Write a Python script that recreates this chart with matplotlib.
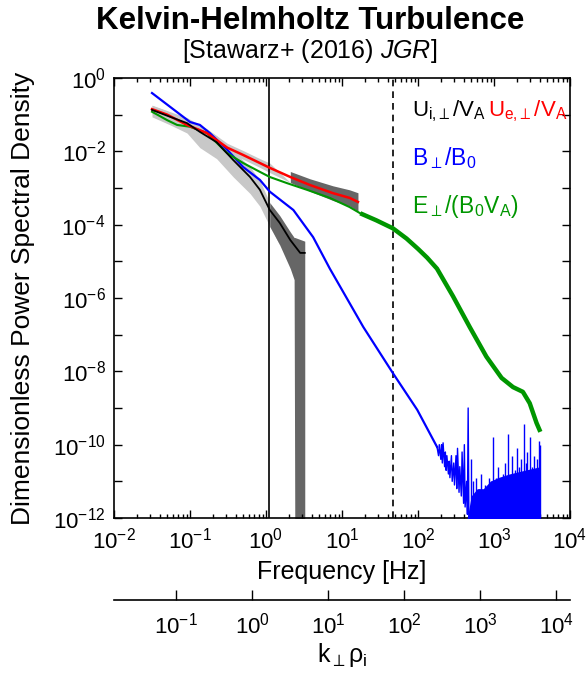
import numpy as np
import matplotlib
matplotlib.use("Agg")
import matplotlib.pyplot as plt
from matplotlib.ticker import FixedLocator, FuncFormatter, LogLocator, NullLocator

plt.rcParams['font.family'] = ['Liberation Sans', 'DejaVu Sans']
plt.rcParams['mathtext.fontset'] = 'custom'
plt.rcParams['mathtext.rm'] = 'Liberation Sans'
plt.rcParams['mathtext.it'] = 'Liberation Sans:italic'
plt.rcParams['mathtext.bf'] = 'Liberation Sans:bold'
plt.rcParams['mathtext.fallback'] = 'stixsans'

# values, log10(frequency [Hz]) and log10(PSD)
black_logf = [-1.5, -1.26, -1.04, -0.87, -0.65, -0.43, -0.21, -0.08, 0.05, 0.18, 0.32, 0.45, 0.51]
black_logp = [-0.87, -1.06, -1.23, -1.47, -1.75, -2.24, -2.7, -3.05, -3.6, -3.95, -4.42, -4.77, -4.77]
black_band_logf = [-1.5, -1.26, -1.04, -0.87, -0.65, -0.43, -0.21, -0.08, 0.05, 0.18, 0.32, 0.37, 0.38, 0.51]
black_band_hi = [-0.74, -0.92, -1.08, -1.28, -1.58, -2.0, -2.42, -2.8, -3.4, -3.75, -4.2, -4.35, -4.35, -4.45]
black_band_lo = [-1.06, -1.28, -1.5, -1.9, -2.2, -2.7, -3.15, -3.5, -4.05, -4.55, -5.2, -5.5, -13, -13]

red_logf = [-1.5, -1.3, -1.04, -0.78, -0.51, -0.30, -0.08, 0.05, 0.32, 0.58, 0.88, 1.1, 1.21]
red_logp = [-0.85, -1.0, -1.28, -1.5, -1.9, -2.1, -2.32, -2.45, -2.7, -2.92, -3.14, -3.27, -3.38]
red_err = [0.1, 0.1, 0.1, 0.12, 0.12, 0.12, 0.12, 0.13, 0.15, 0.17, 0.2, 0.22, 0.25]

green_logf = [-1.5, -1.3, -1.17, -1.0, -0.78, -0.51, -0.30, -0.08, 0.05, 0.28, 0.54, 0.84, 1.1,
              1.24, 1.45, 1.67, 1.85, 2.0, 2.12, 2.25, 2.46, 2.68, 2.9, 3.1, 3.25, 3.38, 3.47, 3.56, 3.61]
green_logp = [-0.92, -1.15, -1.28, -1.33, -1.5, -2.05, -2.32, -2.56, -2.7, -2.87, -3.05, -3.27, -3.52,
              -3.69, -3.88, -4.1, -4.38, -4.66, -4.9, -5.2, -5.95, -6.79, -7.6, -8.18, -8.43, -8.56, -8.87, -9.41, -9.65]

blue_logf = [-1.5, -1.0, -0.87, -0.74, -0.51, -0.30, -0.08, 0.05, 0.36, 0.62, 0.84, 1.28, 1.67, 1.99, 2.25]
blue_logp = [-0.41, -1.2, -1.28, -1.5, -1.96, -2.43, -2.78, -3.1, -3.6, -4.34, -5.2, -6.79, -8.05, -9.05, -10.06]
# jagged stretch where the spectrum reaches the noise floor
blue_zig_logf = [2.25, 2.27, 2.28, 2.30, 2.31, 2.32, 2.33, 2.35, 2.36, 2.37, 2.38, 2.40, 2.41, 2.42, 2.44,
                 2.45, 2.47, 2.48, 2.50, 2.51, 2.52, 2.54, 2.55, 2.57, 2.58, 2.60, 2.61, 2.62, 2.64, 2.65,
                 2.66, 2.67, 2.68]
blue_zig_logp = [-10.06, -10.3, -10.0, -10.4, -10.0, -10.5, -9.95, -10.6, -10.2, -10.7, -10.3, -10.8, -10.45,
                 -10.9, -10.3, -11.0, -10.5, -11.1, -10.3, -11.2, -10.1, -11.3, -10.6, -11.4, -10.2, -11.6,
                 -10.0, -11.7, -11.0, -11.9, -9.0, -12.1, -12.5]
blue_env_logf = [2.64, 2.70, 2.78, 2.86, 2.95, 3.05, 3.2, 3.4, 3.61]
blue_env_logp = [-12.1, -11.4, -11.2, -11.2, -11.0, -10.9, -10.8, -10.7, -10.6]
blue_spike_logf = [2.70, 2.73, 2.76, 2.80, 2.83, 2.88, 2.93, 2.96, 2.99, 3.02, 3.05, 3.08, 3.12, 3.15,
                   3.18, 3.21, 3.24, 3.27, 3.30, 3.33, 3.35, 3.37, 3.39, 3.42, 3.44, 3.47, 3.50, 3.52,
                   3.54, 3.56, 3.59, 3.61]
blue_spike_logp = [-10.4, -11.0, -10.9, -11.2, -10.8, -11.1, -10.9, -11.0, -9.8, -10.9, -10.6, -11.0, -10.8,
                   -10.5, -9.7, -10.9, -10.3, -10.7, -10.1, -10.6, -10.4, -10.8, -9.45, -10.5, -10.2, -9.8,
                   -10.6, -10.3, -10.7, -10.4, -9.9, -10.0]

f_solid = 1.1      # Hz
f_dashed = 46.5    # Hz
k_per_f = 1.51     # k_perp rho_i per Hz

W, H = 588, 675
fig = plt.figure(figsize=(W / 100, H / 100), dpi=100)
ax = fig.add_axes([114 / W, 1 - 518 / H, 456 / W, 440 / H])

def p10(v):
    return 10.0 ** np.asarray(v, dtype=float)

light = '#c8c8c8'
dark = '#666666'
green = '#009600'

# uncertainty bands
bf = p10(black_band_logf)
ax.fill_between(bf, p10(black_band_lo), p10(black_band_hi), where=np.array(black_band_logf) <= 0.05,
                interpolate=True, color=light, lw=0, zorder=1)
ax.fill_between(bf, p10(black_band_lo), p10(black_band_hi), where=np.array(black_band_logf) >= 0.05,
                interpolate=True, color=dark, lw=0, zorder=1)
rl = np.array(red_logp)
re = np.array(red_err)
rf = np.array(red_logf)
ax.fill_between(p10(rf), p10(rl - re), p10(rl + re), where=rf <= 0.3, interpolate=True,
                color=light, lw=0, zorder=1)
ax.fill_between(p10(rf), p10(rl - re), p10(rl + re), where=rf >= 0.3, interpolate=True,
                color=dark, lw=0, zorder=1)

ax.axvline(f_solid, color='black', lw=1.2, zorder=2)
ax.axvline(f_dashed, color='black', lw=1.2, ls=(0, (4, 3)), zorder=2)

# blue noise floor
ax.fill_between(p10(blue_env_logf), 1e-13, p10(blue_env_logp), color='blue', lw=0, zorder=3)
ax.vlines(p10(blue_spike_logf), 1e-13, p10(blue_spike_logp), color='blue', lw=1.0, zorder=3)
ax.plot(p10(blue_zig_logf), p10(blue_zig_logp), color='blue', lw=1.0, zorder=3)

ax.plot(p10(blue_logf), p10(blue_logp), color='blue', lw=1.6, zorder=4)
gf = np.array(green_logf)
gp = np.array(green_logp)
ax.plot(p10(gf[gf <= 1.24]), p10(gp[gf <= 1.24]), color=green, lw=1.5, zorder=5)
ax.plot(p10(gf[gf >= 1.24]), p10(gp[gf >= 1.24]), color=green, lw=3.2, zorder=5, solid_capstyle='butt')
ax.plot(p10(red_logf), p10(red_logp), color='red', lw=1.8, zorder=6)
ax.plot(p10(black_logf), p10(black_logp), color='black', lw=1.3, zorder=7)

ax.set_xscale('log')
ax.set_yscale('log')
ax.set_xlim(1e-2, 1e4)
ax.set_ylim(1e-12, 1e0)

ax.xaxis.set_major_locator(FixedLocator([10.0 ** e for e in range(-2, 5)]))
ax.xaxis.set_minor_locator(LogLocator(base=10, subs=np.arange(2, 10), numticks=20))
ax.xaxis.set_major_formatter(FuncFormatter(lambda v, p: r'$\mathdefault{10^{%d}}$' % round(np.log10(v))))
ax.yaxis.set_major_locator(FixedLocator([10.0 ** e for e in range(-12, 1)]))
ax.yaxis.set_minor_locator(NullLocator())

def ylab(v, p):
    e = int(round(np.log10(v)))
    return r'$\mathdefault{10^{%d}}$' % e if e % 2 == 0 else ''

ax.yaxis.set_major_formatter(FuncFormatter(ylab))
ax.tick_params(which='both', direction='in', top=True, right=True, labelsize=16, width=1.0)
ax.tick_params(which='major', length=6)
ax.tick_params(which='minor', length=3)
ax.tick_params(axis='x', pad=7)
ax.tick_params(axis='y', pad=6)
for s in ax.spines.values():
    s.set_linewidth(1.2)

# k_perp rho_i axis
ax2 = fig.add_axes([114 / W, 1 - 600 / H, 456 / W, 1e-5])
for s in ['top', 'left', 'right']:
    ax2.spines[s].set_visible(False)
ax2.spines['bottom'].set_linewidth(1.2)
ax2.set_xscale('log')
ax2.set_xlim(1e-2 * k_per_f, 1e4 * k_per_f)
ax2.set_yticks([])
ax2.xaxis.set_major_locator(FixedLocator([10.0 ** e for e in range(-1, 5)]))
ax2.xaxis.set_minor_locator(NullLocator())
ax2.xaxis.set_major_formatter(FuncFormatter(lambda v, p: r'$\mathdefault{10^{%d}}$' % round(np.log10(v))))
ax2.tick_params(direction='in', length=7, width=1.0, labelsize=16, pad=9)
ax2.patch.set_visible(False)

fig.text(310 / W, 1 - 21 / H, 'Kelvin-Helmholtz Turbulence', ha='center', va='center',
         fontsize=22.5, fontweight='bold')
fig.text(310 / W, 1 - 51 / H, r'[Stawarz+ (2016) $\mathit{JGR}$]', ha='center', va='center', fontsize=18)
fig.text(23 / W, 1 - 298 / H, 'Dimensionless Power Spectral Density', rotation=90,
         ha='center', va='center', fontsize=19)
fig.text(342 / W, 1 - 572 / H, 'Frequency [Hz]', ha='center', va='center', fontsize=18)
fig.text(342 / W, 1 - 655 / H, r'$\mathrm{k_{\perp}\rho_{i}}$', ha='center', va='center', fontsize=18)

tb = fig.text(412 / W, 1 - 116 / H, r'$\mathrm{U_{i{,}\perp}/V_{A}}$', color='black', fontsize=16, va='baseline')
fig.canvas.draw()
ax.annotate(r'$\mathrm{U_{e{,}\perp}/V_{A}}$', xy=(1, 0), xycoords=tb, xytext=(1.5, 0),
            textcoords='offset points', color='red', fontsize=16, va='bottom', ha='left')
fig.text(412 / W, 1 - 165 / H, r'$\mathrm{B_{\perp}/B_{0}}$', color='blue', fontsize=16.5, va='baseline')
fig.text(412 / W, 1 - 213 / H, r'$\mathrm{E_{\perp}/(B_{0}V_{A})}$', color=green, fontsize=16.5, va='baseline')

fig.savefig('out.png', dpi=100)
